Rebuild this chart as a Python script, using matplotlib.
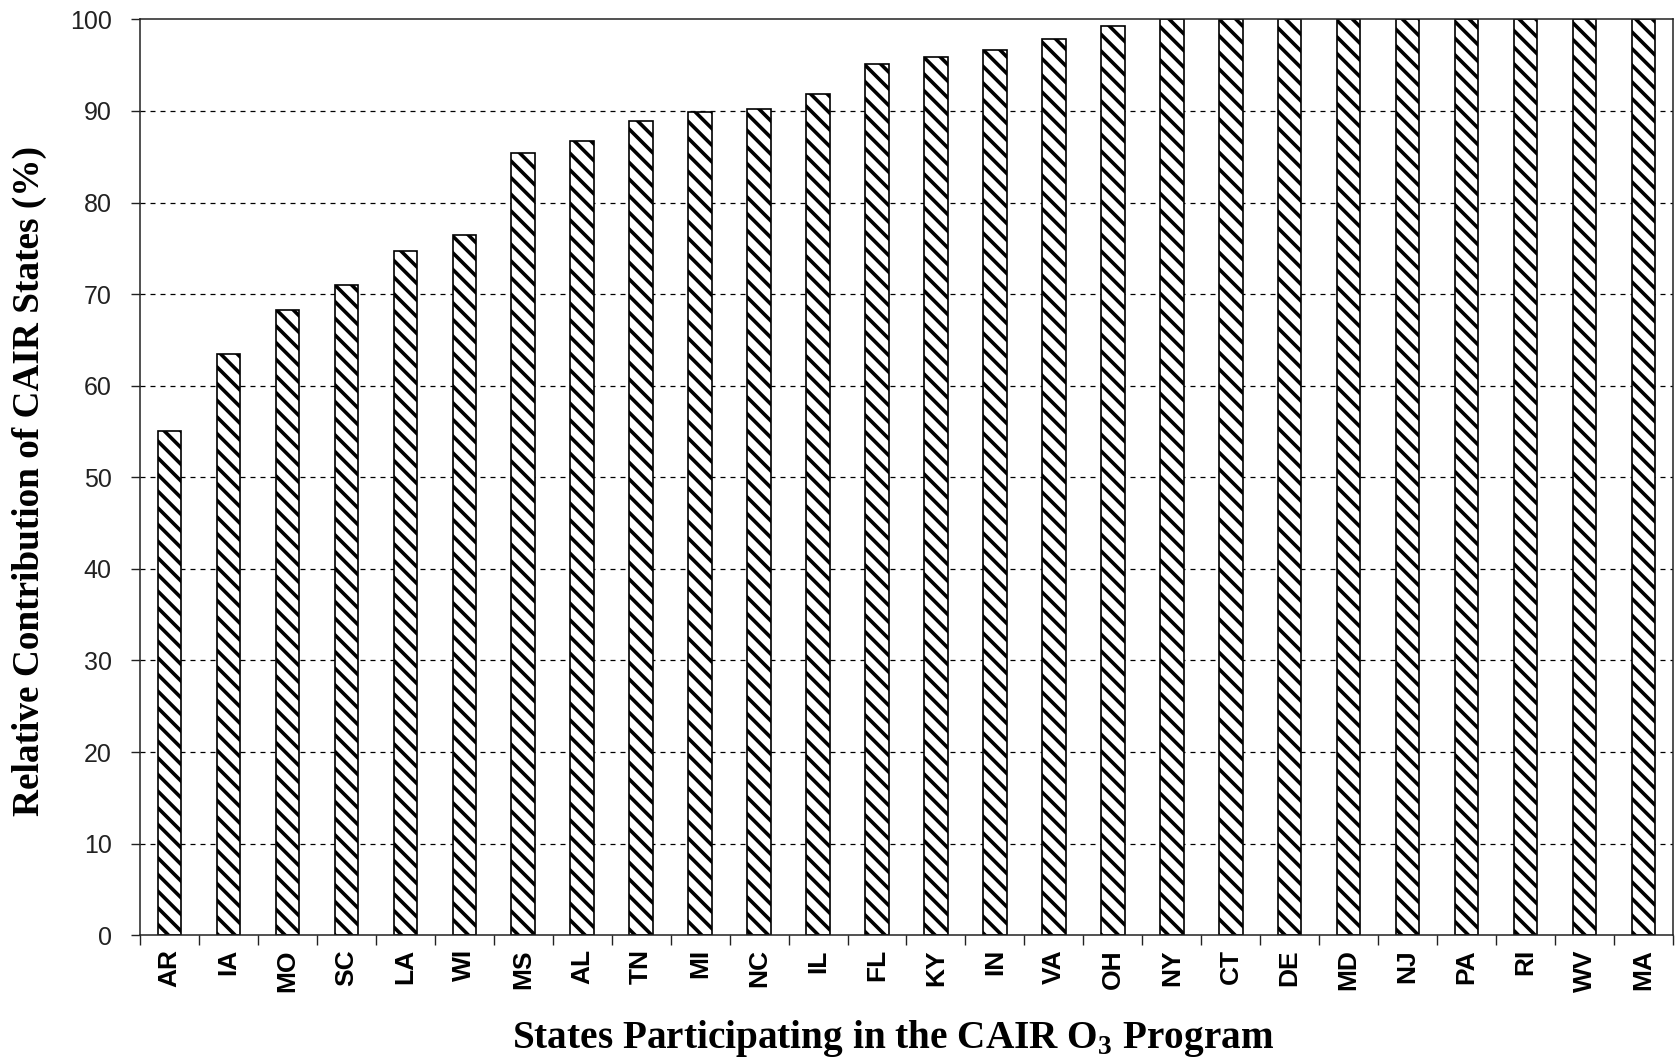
import matplotlib
matplotlib.use("Agg")
import matplotlib.pyplot as plt
import numpy as np

# states in the CAIR O3 program, sorted by relative contribution
states = ["AR", "IA", "MO", "SC", "LA", "WI", "MS", "AL", "TN", "MI", "NC", "IL", "FL",
          "KY", "IN", "VA", "OH", "NY", "CT", "DE", "MD", "NJ", "PA", "RI", "WV", "MA"]
contribution = [55.0, 63.5, 68.3, 71.0, 74.7, 76.4, 85.4, 86.7, 88.9, 89.9, 90.2, 91.9, 95.1,
                95.9, 96.6, 97.8, 99.3, 100, 100, 100, 100, 100, 100, 100, 100, 100]
yticks = [0, 10, 20, 30, 40, 50, 60, 70, 80, 90, 100]

plt.rcParams['hatch.linewidth'] = 2.6
plt.rcParams['mathtext.fontset'] = 'custom'
plt.rcParams['mathtext.rm'] = 'Liberation Serif'
plt.rcParams['mathtext.bf'] = 'Liberation Serif:bold'

fig = plt.figure(figsize=(16.81, 10.61), dpi=100)
ax = fig.add_axes([0.0833, 0.1185, 0.9119, 0.8633])

x = np.arange(len(states))

# dashed gridlines behind the bars
for v in yticks[1:-1]:
    ax.axhline(v, color='black', lw=0.9, ls=(0, (4, 4)), zorder=1)

ax.bar(x, contribution, width=0.4, color='white', edgecolor='black',
       hatch='\\\\', lw=1.2, zorder=2)

ax.set_xlim(-0.5, len(states) - 0.5)
ax.set_ylim(0, 100)

ax.set_yticks(yticks)
ax.set_yticklabels([str(v) for v in yticks], fontfamily='Liberation Sans', fontsize=18)
ax.tick_params(axis='y', direction='out', length=6.5, width=1, pad=14, colors='#222')

ax.set_xticks(x)
ax.set_xticklabels(states, rotation=90, fontfamily='Liberation Sans',
                   fontweight='bold', fontsize=19)
ax.tick_params(axis='x', which='major', length=0, pad=10)
ax.set_xticks(np.arange(len(states) + 1) - 0.5, minor=True)
ax.tick_params(axis='x', which='minor', direction='out', length=7.5, width=1, color='#222')

for s in ax.spines.values():
    s.set_color('#222')
    s.set_linewidth(1.1)

fig.text(0.0175, 0.5463, 'Relative Contribution of CAIR States (%)', rotation=90,
         ha='center', va='center', fontfamily='Liberation Serif',
         fontweight='bold', fontsize=26.8)
fig.text(0.531, 0.021, r'States Participating in the CAIR O$_\mathbf{3}$ Program',
         ha='center', va='center', fontfamily='Liberation Serif',
         fontweight='bold', fontsize=28.3)

fig.savefig('out.png', dpi=100)
